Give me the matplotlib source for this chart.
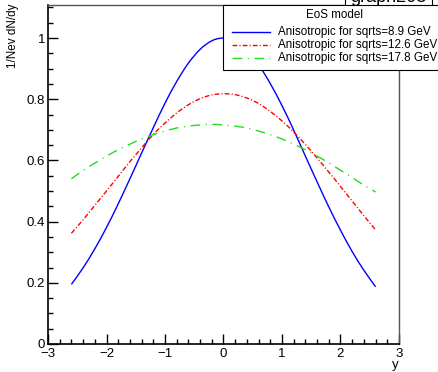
import matplotlib
matplotlib.use("Agg")
import matplotlib.pyplot as plt
from matplotlib.ticker import MultipleLocator, FixedLocator
from matplotlib.lines import Line2D
from matplotlib.patches import Rectangle, PathPatch
from matplotlib.path import Path

plt.rcParams['font.family'] = ['Liberation Sans', 'DejaVu Sans']

rapidity = [-2.6, -2.4, -2.2, -2.0, -1.8, -1.6, -1.4, -1.2, -1.0, -0.8, -0.6, -0.4, -0.2,
            0.0, 0.2, 0.4, 0.6, 0.8, 1.0, 1.2, 1.4, 1.6, 1.8, 2.0, 2.2, 2.4, 2.6]
aniso_8_9 = [0.195, 0.249, 0.311, 0.381, 0.458, 0.540, 0.624, 0.707, 0.787, 0.858, 0.918, 0.963, 0.991,
             1.000, 0.989, 0.960, 0.913, 0.851, 0.779, 0.699, 0.614, 0.530, 0.448, 0.372, 0.302, 0.241, 0.187]
aniso_12_6 = [0.362, 0.406, 0.453, 0.500, 0.548, 0.596, 0.641, 0.685, 0.722, 0.755, 0.782, 0.802, 0.814,
              0.818, 0.815, 0.804, 0.786, 0.760, 0.729, 0.693, 0.652, 0.608, 0.562, 0.515, 0.467, 0.419, 0.373]
aniso_17_8 = [0.540, 0.567, 0.591, 0.614, 0.635, 0.653, 0.670, 0.684, 0.696, 0.706, 0.712, 0.716, 0.718,
              0.716, 0.712, 0.706, 0.696, 0.684, 0.670, 0.653, 0.635, 0.614, 0.592, 0.568, 0.544, 0.519, 0.497]

labels = ["Anisotropic for sqrts=8.9 GeV",
          "Anisotropic for sqrts=12.6 GeV",
          "Anisotropic for sqrts=17.8 GeV"]
legend_title = "EoS model"
x_ticks = [-3, -2, -1, 0, 1, 2, 3]
x_ticklabels = ["\u22123", "\u22122", "\u22121", "0", "1", "2", "3"]
y_ticks = [0, 0.2, 0.4, 0.6, 0.8, 1.0]
y_ticklabels = ["0", "0.2", "0.4", "0.6", "0.8", "1"]

colors = ["#0000ff", "#ff0000", "#22dd22"]
dash_styles = ["-", (0, (3.5, 1.5, 0.8, 1.5)), (0, (7, 4, 0.8, 4))]


def smooth_path(xs, ys):
    # Catmull-Rom spline through the data points expressed as cubic Bezier segments
    n = len(xs)
    verts = [(xs[0], ys[0])]
    codes = [Path.MOVETO]
    for i in range(n - 1):
        i0 = max(i - 1, 0)
        i3 = min(i + 2, n - 1)
        c1 = (xs[i] + (xs[i + 1] - xs[i0]) / 6.0, ys[i] + (ys[i + 1] - ys[i0]) / 6.0)
        c2 = (xs[i + 1] - (xs[i3] - xs[i]) / 6.0, ys[i + 1] - (ys[i3] - ys[i]) / 6.0)
        verts += [c1, c2, (xs[i + 1], ys[i + 1])]
        codes += [Path.CURVE4] * 3
    return Path(verts, codes)


W, H = 439, 372
fig = plt.figure(figsize=(W / 100, H / 100), dpi=100)
L, R, B, T = 48, 399, 344, 5
ax = fig.add_axes([L / W, 1 - B / H, (R - L) / W, (B - T) / H])

series = [aniso_8_9, aniso_12_6, aniso_17_8]
for vals, c, ls in zip(series, colors, dash_styles):
    ax.add_patch(PathPatch(smooth_path(rapidity, vals), facecolor='none', edgecolor=c,
                           linestyle=ls, lw=1.0))

ax.set_xlim(-3, 3)
ax.set_ylim(0, 1.108)
ax.xaxis.set_major_locator(FixedLocator(x_ticks))
ax.xaxis.set_minor_locator(MultipleLocator(0.2))
ax.yaxis.set_major_locator(FixedLocator(y_ticks))
ax.yaxis.set_minor_locator(MultipleLocator(0.05))
ax.set_yticklabels(y_ticklabels)
ax.set_xticklabels(x_ticklabels)
ax.tick_params(which='both', direction='in', top=False, right=False, labelsize=9.5, colors='black')
ax.tick_params(which='major', length=7, width=1)
ax.tick_params(which='minor', length=3.5, width=1)
ax.tick_params(axis='y', pad=2)
ax.tick_params(axis='x', pad=3)

for s in ['left', 'bottom']:
    ax.spines[s].set_color('black')
    ax.spines[s].set_linewidth(1.2)
for s in ['right', 'top']:
    ax.spines[s].set_color('#555555')
    ax.spines[s].set_linewidth(1.0)

fig.text(399 / W, 1 - 365 / H, "y", ha='right', va='center', fontsize=9.5)
fig.text(13 / W, 1 - 3 / H, "1/Nev dN/dy", rotation=90, ha='center', va='top', fontsize=8.4)

# title box (clipped at top)
fig.add_artist(Rectangle((345 / W, 1 - 5.5 / H), 87 / W, 10 / H, transform=fig.transFigure,
                         facecolor='white', edgecolor='black', lw=0.8, zorder=5))
fig.text(388 / W, 1 - 1.5 / H, "graph203", ha='center', va='baseline', fontsize=13, zorder=6)

# legend box
fig.add_artist(Rectangle((223 / W, 1 - 70 / H), 220 / W, 65 / H, transform=fig.transFigure,
                         facecolor='white', edgecolor='black', lw=0.8, zorder=5))
fig.text(335 / W, 1 - 15 / H, legend_title, ha='center', va='center', fontsize=8.4, zorder=6)
ys = [32, 45, 58]
for yy, c, ls, lab in zip(ys, colors, dash_styles, labels):
    fig.add_artist(Line2D([232 / W, 270 / W], [1 - yy / H, 1 - yy / H], transform=fig.transFigure,
                          color=c, linestyle=ls, lw=1.0, zorder=6))
    fig.text(278 / W, 1 - yy / H, lab, ha='left', va='center', fontsize=8.4, zorder=6)

fig.savefig("out.png", dpi=100)
